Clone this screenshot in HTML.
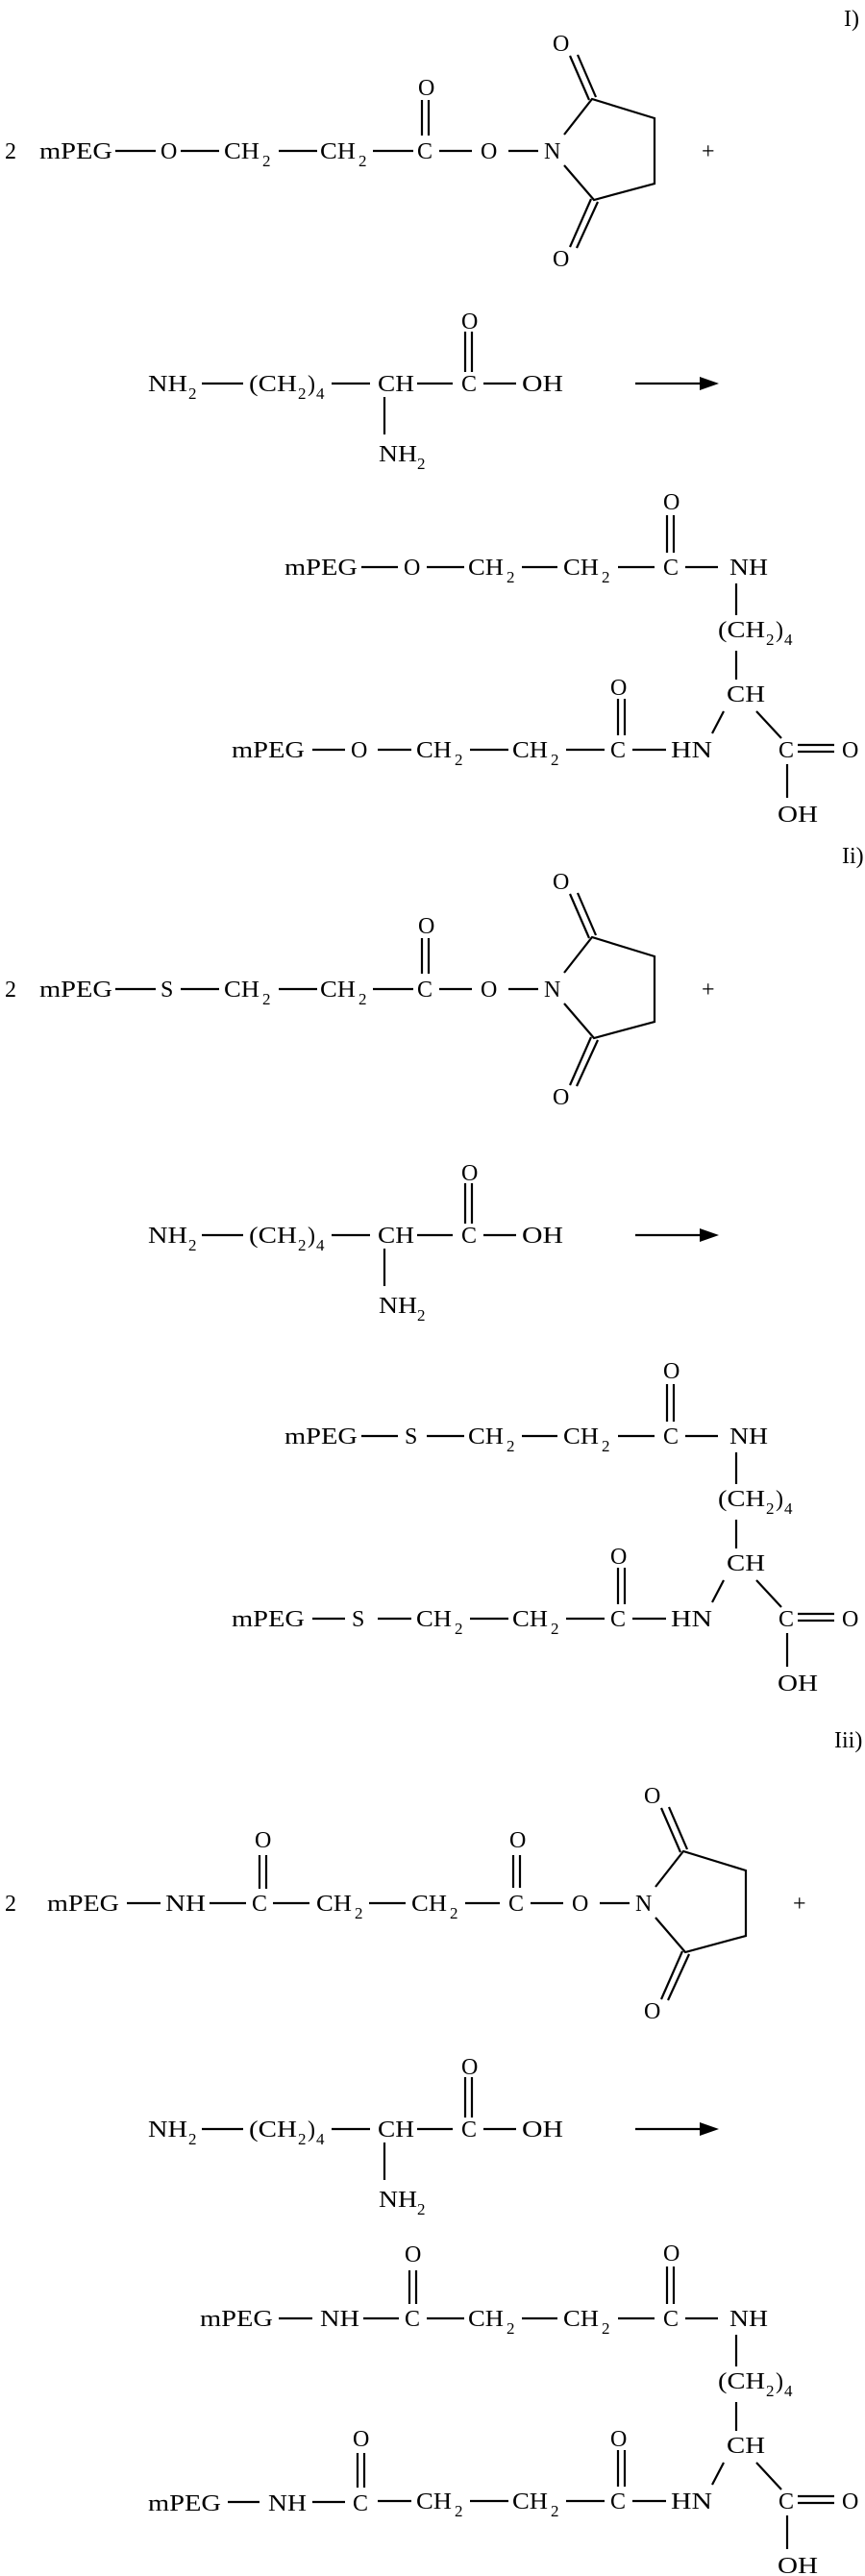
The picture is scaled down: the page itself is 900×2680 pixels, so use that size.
<!DOCTYPE html>
<html><head><meta charset="utf-8">
<style>
html,body{margin:0;padding:0;background:#fff;}
svg{display:block;}
text{font-family:"Liberation Serif","DejaVu Serif",serif;font-size:24px;fill:#000;}
text.s{font-size:17px;}
line,polyline{stroke:#000;stroke-width:2.2;fill:none;}
</style></head>
<body>
<svg width="900" height="2680" viewBox="0 0 900 2680" xmlns="http://www.w3.org/2000/svg">
<defs></defs>

<!-- ================= SECTION I ================= -->
<text x="878" y="27">I)</text>
<g id="r1">
<text x="5" y="165">2</text>
<text x="41" y="165" textLength="76" lengthAdjust="spacingAndGlyphs">mPEG</text>
<line x1="120" y1="157" x2="162" y2="157"/>
<text x="167" y="165">O</text>
<line x1="188" y1="157" x2="228" y2="157"/>
<text x="233" y="165" textLength="37" lengthAdjust="spacingAndGlyphs">CH</text><text class="s" x="273" y="173">2</text>
<line x1="290" y1="157" x2="330" y2="157"/>
<text x="333" y="165" textLength="37" lengthAdjust="spacingAndGlyphs">CH</text><text class="s" x="373" y="173">2</text>
<line x1="388" y1="157" x2="430" y2="157"/>
</g>
<g id="ester1">
<text x="434" y="165">C</text>
<line x1="439" y1="104" x2="439" y2="141"/><line x1="446" y1="104" x2="446" y2="141"/>
<text x="435" y="99">O</text>
<line x1="457" y1="157" x2="491" y2="157"/>
<text x="500" y="165">O</text>
<line x1="529" y1="157" x2="560" y2="157"/>
<text x="566" y="165">N</text>
<polyline points="587,140 616,103 681,123 681,191 618,208 587,172"/>
<line x1="613" y1="104" x2="593" y2="58"/><line x1="620" y1="101" x2="601" y2="57"/>
<text x="575" y="53">O</text>
<line x1="615" y1="207" x2="593" y2="257"/><line x1="622" y1="210" x2="600" y2="258"/>
<text x="575" y="277">O</text>
<text x="730" y="165">+</text>
</g>

<g id="lys1">
<text x="154" y="407" textLength="41" lengthAdjust="spacingAndGlyphs">NH</text><text class="s" x="196" y="415">2</text>
<line x1="210" y1="399" x2="253" y2="399"/>
<text x="259" y="407" textLength="50" lengthAdjust="spacingAndGlyphs">(CH</text><text class="s" x="310" y="415">2</text><text x="320" y="407">)</text><text class="s" x="329" y="415">4</text>
<line x1="345" y1="399" x2="385" y2="399"/>
<text x="393" y="407" textLength="38" lengthAdjust="spacingAndGlyphs">CH</text>
<line x1="434" y1="399" x2="471" y2="399"/>
<text x="480" y="407">C</text>
<line x1="484" y1="345" x2="484" y2="387"/><line x1="491" y1="345" x2="491" y2="387"/>
<text x="480" y="342">O</text>
<line x1="503" y1="399" x2="537" y2="399"/>
<text x="543" y="407" textLength="43" lengthAdjust="spacingAndGlyphs">OH</text>
<line x1="661" y1="399" x2="735" y2="399"/>
<polygon points="728,392 748,399 728,406" fill="#000"/>
<line x1="400" y1="413" x2="400" y2="452"/>
<text x="394" y="480" textLength="40" lengthAdjust="spacingAndGlyphs">NH</text><text class="s" x="434" y="488">2</text>
</g>

<g id="prodtail">
<line x1="713" y1="590" x2="747" y2="590"/>
<text x="759" y="598" textLength="40" lengthAdjust="spacingAndGlyphs">NH</text>
<line x1="766" y1="607" x2="766" y2="640"/>
<text x="747" y="663" textLength="49" lengthAdjust="spacingAndGlyphs">(CH</text><text class="s" x="797" y="671">2</text><text x="807" y="663">)</text><text class="s" x="816" y="671">4</text>
<line x1="766" y1="677" x2="766" y2="707"/>
<text x="756" y="730" textLength="40" lengthAdjust="spacingAndGlyphs">CH</text>
<line x1="753" y1="740" x2="741" y2="763"/>
<line x1="787" y1="740" x2="813" y2="768"/>
<line x1="658" y1="780" x2="693" y2="780"/>
<text x="698" y="788" textLength="43" lengthAdjust="spacingAndGlyphs">HN</text>
<text x="810" y="788">C</text>
<line x1="830" y1="775" x2="868" y2="775"/><line x1="830" y1="782" x2="868" y2="782"/>
<text x="876" y="788">O</text>
<line x1="819" y1="795" x2="819" y2="830"/>
<text x="809" y="855" textLength="42" lengthAdjust="spacingAndGlyphs">OH</text>
<!-- carbonyls ending rows -->
<text x="690" y="598">C</text>
<line x1="694" y1="536" x2="694" y2="575"/><line x1="701" y1="536" x2="701" y2="575"/>
<text x="690" y="530">O</text>
<text x="635" y="788">C</text>
<line x1="643" y1="727" x2="643" y2="765"/><line x1="650" y1="727" x2="650" y2="765"/>
<text x="635" y="723">O</text>
<!-- CH2-CH2 segments -->
<line x1="444" y1="590" x2="483" y2="590"/>
<text x="487" y="598" textLength="37" lengthAdjust="spacingAndGlyphs">CH</text><text class="s" x="527" y="606">2</text>
<line x1="543" y1="590" x2="580" y2="590"/>
<text x="586" y="598" textLength="37" lengthAdjust="spacingAndGlyphs">CH</text><text class="s" x="626" y="606">2</text>
<line x1="643" y1="590" x2="681" y2="590"/>
<line x1="393" y1="780" x2="428" y2="780"/>
<text x="433" y="788" textLength="37" lengthAdjust="spacingAndGlyphs">CH</text><text class="s" x="473" y="796">2</text>
<line x1="489" y1="780" x2="529" y2="780"/>
<text x="533" y="788" textLength="37" lengthAdjust="spacingAndGlyphs">CH</text><text class="s" x="573" y="796">2</text>
<line x1="589" y1="780" x2="629" y2="780"/>
</g>
<!-- product I heads -->
<text x="296" y="598" textLength="76" lengthAdjust="spacingAndGlyphs">mPEG</text>
<line x1="376" y1="590" x2="414" y2="590"/>
<text x="420" y="598">O</text>
<text x="241" y="788" textLength="76" lengthAdjust="spacingAndGlyphs">mPEG</text>
<line x1="325" y1="780" x2="359" y2="780"/>
<text x="365" y="788">O</text>
<text x="876" y="898">Ii)</text>

<!-- ================= SECTION II ================= -->
<g transform="translate(0,872)">
<text x="5" y="165">2</text>
<text x="41" y="165" textLength="76" lengthAdjust="spacingAndGlyphs">mPEG</text>
<line x1="120" y1="157" x2="162" y2="157"/>
<text x="167" y="165">S</text>
<line x1="188" y1="157" x2="228" y2="157"/>
<text x="233" y="165" textLength="37" lengthAdjust="spacingAndGlyphs">CH</text><text class="s" x="273" y="173">2</text>
<line x1="290" y1="157" x2="330" y2="157"/>
<text x="333" y="165" textLength="37" lengthAdjust="spacingAndGlyphs">CH</text><text class="s" x="373" y="173">2</text>
<line x1="388" y1="157" x2="430" y2="157"/>
<use href="#ester1"/>
</g>
<use href="#lys1" transform="translate(0,886)"/>
<g transform="translate(0,904)">
<use href="#prodtail"/>
<text x="296" y="598" textLength="76" lengthAdjust="spacingAndGlyphs">mPEG</text>
<line x1="376" y1="590" x2="414" y2="590"/>
<text x="421" y="598">S</text>
<text x="241" y="788" textLength="76" lengthAdjust="spacingAndGlyphs">mPEG</text>
<line x1="325" y1="780" x2="359" y2="780"/>
<text x="366" y="788">S</text>
</g>
<text x="868" y="1818">Iii)</text>

<!-- ================= SECTION III ================= -->
<text x="5" y="1988">2</text>
<text x="49" y="1988" textLength="75" lengthAdjust="spacingAndGlyphs">mPEG</text>
<line x1="132" y1="1980" x2="167" y2="1980"/>
<text x="172" y="1988" textLength="42" lengthAdjust="spacingAndGlyphs">NH</text>
<line x1="218" y1="1980" x2="256" y2="1980"/>
<text x="262" y="1988">C</text>
<line x1="270" y1="1930" x2="270" y2="1965"/><line x1="277" y1="1930" x2="277" y2="1965"/>
<text x="265" y="1922">O</text>
<line x1="284" y1="1980" x2="322" y2="1980"/>
<text x="329" y="1988" textLength="37" lengthAdjust="spacingAndGlyphs">CH</text><text class="s" x="369" y="1996">2</text>
<line x1="384" y1="1980" x2="422" y2="1980"/>
<text x="428" y="1988" textLength="37" lengthAdjust="spacingAndGlyphs">CH</text><text class="s" x="468" y="1996">2</text>
<line x1="484" y1="1980" x2="520" y2="1980"/>
<g transform="translate(95,1823)">
<text x="434" y="165">C</text>
<line x1="439" y1="107" x2="439" y2="141"/><line x1="446" y1="107" x2="446" y2="141"/>
<text x="435" y="99">O</text>
<line x1="457" y1="157" x2="491" y2="157"/>
<text x="500" y="165">O</text>
<line x1="529" y1="157" x2="560" y2="157"/>
<text x="566" y="165">N</text>
<polyline points="587,140 616,103 681,123 681,191 618,208 587,172"/>
<line x1="613" y1="104" x2="593" y2="58"/><line x1="620" y1="101" x2="601" y2="57"/>
<text x="575" y="53">O</text>
<line x1="615" y1="207" x2="593" y2="257"/><line x1="622" y1="210" x2="600" y2="258"/>
<text x="575" y="277">O</text>
<text x="730" y="165">+</text>
</g>
<use href="#lys1" transform="translate(0,1816)"/>
<g transform="translate(0,1822)">
<use href="#prodtail"/>
</g>
<!-- product III heads -->
<text x="208" y="2420" textLength="76" lengthAdjust="spacingAndGlyphs">mPEG</text>
<line x1="290" y1="2412" x2="325" y2="2412"/>
<text x="333" y="2420" textLength="41" lengthAdjust="spacingAndGlyphs">NH</text>
<line x1="378" y1="2412" x2="415" y2="2412"/>
<text x="421" y="2420">C</text>
<line x1="426" y1="2362" x2="426" y2="2397"/><line x1="433" y1="2362" x2="433" y2="2397"/>
<text x="421" y="2353">O</text>
<text x="154" y="2612" textLength="76" lengthAdjust="spacingAndGlyphs">mPEG</text>
<line x1="237" y1="2603" x2="270" y2="2603"/>
<text x="279" y="2612" textLength="40" lengthAdjust="spacingAndGlyphs">NH</text>
<line x1="325" y1="2603" x2="359" y2="2603"/>
<text x="367" y="2612">C</text>
<line x1="372" y1="2552" x2="372" y2="2588"/><line x1="379" y1="2552" x2="379" y2="2588"/>
<text x="367" y="2545">O</text>
</svg>
</body></html>
